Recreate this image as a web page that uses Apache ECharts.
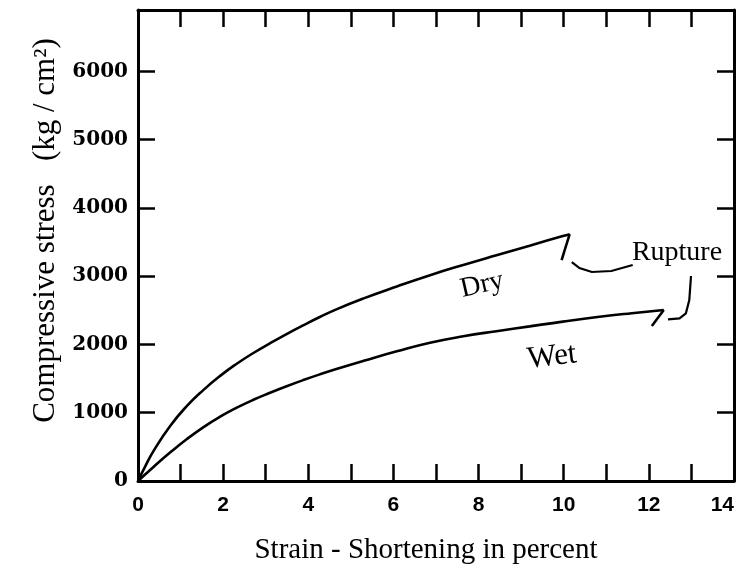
<!DOCTYPE html>
<html>
<head>
	<meta charset="utf-8">
	<title>Compressive stress vs strain</title>
	<script src="https://cdn.jsdelivr.net/npm/echarts@6/dist/echarts.min.js"></script>
	<style>
		html, body { margin: 0; padding: 0; background: #fff; }
	</style>
</head>
<body>
	<div id="main" style="width: 745px;height: 573px;"></div>
</body>
<script type="text/javascript">
	// strain in percent, stress in kg/cm2
	var dryStrain = [0, 0.17, 0.37, 0.76, 1.15, 1.54, 1.93, 2.32, 2.71, 3.10, 3.49, 3.88, 4.27, 4.66, 5.30, 6.08, 6.86, 7.64, 8.42, 9.20, 9.98, 10.14];
	var dryStress = [0, 215, 445, 810, 1100, 1335, 1540, 1718, 1875, 2017, 2152, 2280, 2402, 2515, 2675, 2850, 3015, 3165, 3308, 3448, 3588, 3615];
	var wetStrain = [0, 0.37, 0.76, 1.15, 1.54, 1.93, 2.32, 2.71, 3.10, 3.49, 3.88, 4.27, 4.66, 5.30, 6.08, 6.86, 7.64, 8.42, 9.20, 9.98, 10.84, 11.60, 12.35];
	var wetStress = [0, 210, 420, 615, 790, 942, 1074, 1190, 1292, 1388, 1478, 1562, 1640, 1760, 1900, 2025, 2120, 2195, 2265, 2335, 2405, 2458, 2505];

	// the little drop where each sample broke
	var dryRuptureStrain = [10.14, 9.95];
	var dryRuptureStress = [3615, 3235];
	var wetRuptureStrain = [12.35, 12.07];
	var wetRuptureStress = [2505, 2271];

	// hand drawn arrows from the "Rupture" note
	var arrowDryStrain = [11.62, 11.12, 10.66, 10.37, 10.19];
	var arrowDryStress = [3164, 3076, 3062, 3120, 3208];
	var arrowWetStrain = [12.99, 12.95, 12.87, 12.72, 12.45];
	var arrowWetStress = [3003, 2652, 2457, 2383, 2369];

	var xTickLabels = ['0', '2', '4', '6', '8', '10', '12', '14'];
	var yTickLabels = ['0', '1000', '2000', '3000', '4000', '5000', '6000'];

	function pairs(xs, ys) {
		var out = [];
		for (var i = 0; i < xs.length; i++) out.push([xs[i], ys[i]]);
		return out;
	}

	var myChart = echarts.init(document.getElementById("main"));

	var axisLine = {show: true, onZero: false, lineStyle: {color: '#000', width: 3}};
	var tickStyle = {color: '#000', width: 2.5};

	var option = {
		backgroundColor: '#fff',
		animation: false,
		grid: {left: 138, right: 11, top: 10, bottom: 92},
		xAxis: [{
			type: 'value', min: 0, max: 14, interval: 1,
			position: 'bottom',
			axisLine: axisLine,
			axisTick: {show: true, inside: true, length: 17, lineStyle: tickStyle},
			splitLine: {show: false},
			axisLabel: {
				margin: 14,
				color: '#000',
				fontFamily: 'Liberation Sans',
				fontWeight: 'bold',
				fontSize: 21,
				alignMaxLabel: 'right',
				formatter: function (v) {
					return xTickLabels.indexOf(String(v)) >= 0 ? String(v) : '';
				}
			},
			name: 'Strain - Shortening in percent',
			nameLocation: 'middle',
			nameGap: 55,
			nameTextStyle: {color: '#000', fontFamily: 'Liberation Serif', fontSize: 29, padding: [0, 20, 0, 0]}
		}, {
			type: 'value', min: 0, max: 14, interval: 1,
			position: 'top',
			axisLine: axisLine,
			axisTick: {show: true, inside: true, length: 17, lineStyle: tickStyle},
			splitLine: {show: false},
			axisLabel: {show: false}
		}],
		yAxis: [{
			type: 'value', min: 0, max: 6900, interval: 1000,
			position: 'left',
			axisLine: axisLine,
			axisTick: {show: true, inside: true, length: 17, lineStyle: tickStyle},
			splitLine: {show: false},
			axisLabel: {
				margin: 10,
				color: '#000',
				fontFamily: 'DejaVu Serif',
				fontWeight: 'bold',
				fontSize: 20,
				showMaxLabel: false,
				formatter: function (v) {
					return yTickLabels.indexOf(String(v)) >= 0 ? String(v) : '';
				}
			},
			name: 'Compressive stress   (kg / cm²)',
			nameLocation: 'middle',
			nameRotate: 90,
			nameGap: 74,
			nameTextStyle: {color: '#000', fontFamily: 'Liberation Serif', fontSize: 31, padding: [0, 0, 0, 30]}
		}, {
			type: 'value', min: 0, max: 6900, interval: 1000,
			position: 'right',
			axisLine: axisLine,
			axisTick: {show: true, inside: true, length: 17, lineStyle: tickStyle},
			splitLine: {show: false},
			axisLabel: {show: false}
		}],
		series: [{
			name: 'Dry',
			type: 'line',
			smooth: 0.5,
			showSymbol: false,
			lineStyle: {color: '#000', width: 2.6},
			data: pairs(dryStrain, dryStress)
		}, {
			name: 'Wet',
			type: 'line',
			smooth: 0.5,
			showSymbol: false,
			lineStyle: {color: '#000', width: 2.6},
			data: pairs(wetStrain, wetStress)
		}, {
			name: 'Dry rupture',
			type: 'line',
			showSymbol: false,
			lineStyle: {color: '#000', width: 2.6},
			data: pairs(dryRuptureStrain, dryRuptureStress)
		}, {
			name: 'Wet rupture',
			type: 'line',
			showSymbol: false,
			lineStyle: {color: '#000', width: 2.6},
			data: pairs(wetRuptureStrain, wetRuptureStress)
		}, {
			name: 'Rupture arrows',
			type: 'lines',
			coordinateSystem: 'cartesian2d',
			polyline: true,
			symbol: ['none', 'arrow'],
			symbolSize: 9,
			lineStyle: {color: '#000', width: 2.2, opacity: 1},
			data: [
				{coords: pairs(arrowDryStrain, arrowDryStress)},
				{coords: pairs(arrowWetStrain, arrowWetStress)}
			]
		}],
		graphic: [{
			type: 'text', x: 482, y: 285, rotation: 13 * Math.PI / 180,
			style: {text: 'Dry', fill: '#000', font: '28px "Liberation Serif"', align: 'center', verticalAlign: 'middle'}
		}, {
			type: 'text', x: 552, y: 357, rotation: 7 * Math.PI / 180,
			style: {text: 'Wet', fill: '#000', font: '31px "Liberation Serif"', align: 'center', verticalAlign: 'middle'}
		}, {
			type: 'text', x: 677, y: 253,
			style: {text: 'Rupture', fill: '#000', font: '28px "Liberation Serif"', align: 'center', verticalAlign: 'middle'}
		}]
	};
	myChart.setOption(option);
</script>
</html>
